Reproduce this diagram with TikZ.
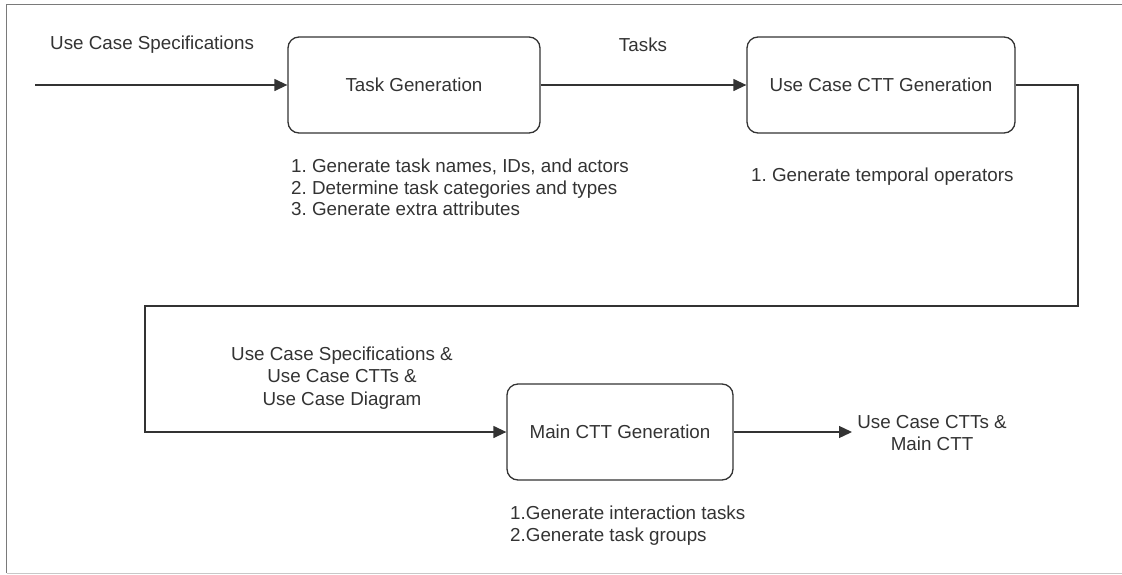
\documentclass[tikz,border=0pt]{standalone}
\usepackage{fontspec}
\setmainfont{Liberation Sans}
\usetikzlibrary{arrows.meta}
\frenchspacing
\definecolor{ink}{HTML}{333333}
\definecolor{frameDark}{HTML}{7A7A7A}
\definecolor{frameLight}{HTML}{C8C8C8}
\tikzset{
  stage/.style={draw=ink, line width=1.3pt, rounded corners=11pt, minimum width=252pt,
    minimum height=96pt, inner sep=0pt, text=ink, font=\fontsize{18.8}{22}\selectfont},
  flow/.style={draw=ink, line width=1.3pt, -{Triangle[length=13pt,width=12pt]}},
  note/.style={text=ink, font=\fontsize{18.8}{21.5}\selectfont, inner sep=0pt, align=left},
  tag/.style={text=ink, font=\fontsize{18.8}{22.5}\selectfont, inner sep=0pt, align=center}
}
\begin{document}
\begin{tikzpicture}[x=1pt,y=-1pt]
  \useasboundingbox (0,0) rectangle (1122,574);
  % outer frame
  \draw[frameDark, line width=1.3pt] (6.5,573) -- (6.5,4.5) -- (1122,4.5);
  \draw[frameLight, line width=1.3pt] (6.5,573.5) -- (1122,573.5);

  % process stages
  \node[stage] (tg) at (414,85) {Task Generation};
  \node[stage, minimum width=268pt] (uc) at (881,85) {Use Case CTT Generation};
  \node[stage, minimum width=226pt] (mc) at (620,432) {Main CTT Generation};

  % inputs and outputs
  \coordinate (start) at (35,85);
  \node[tag, anchor=west] (lspec) at (50,45) {Use Case Specifications};
  \node[tag] (ltasks) at (643,45) {Tasks};
  \node[tag] (lin) at (342,378) {Use Case Specifications \&\\Use Case CTTs \&\\Use Case Diagram};
  \node[tag] (lout) at (932,433) {Use Case CTTs \&\\Main CTT};
  \coordinate (end) at (852,432);

  % step notes
  \node[note, anchor=north west] (ntg) at (291,159) {1. Generate task names, IDs, and actors\\2. Determine task categories and types\\3. Generate extra attributes};
  \node[note, anchor=north west] (nuc) at (751,168) {1. Generate temporal operators};
  \node[note, anchor=north west] (nmc) at (510,506) {1.Generate interaction tasks\\2.Generate task groups};

  % connectors
  \draw[flow] (start) -- (tg.west);
  \draw[flow] (tg.east) -- (uc.west);
  \draw[flow] (uc.east) -- (1078,85) -- (1078,306) -- (145,306) -- (145,432) -- (mc.west);
  \draw[flow] (mc.east) -- (end);
\end{tikzpicture}
\end{document}
